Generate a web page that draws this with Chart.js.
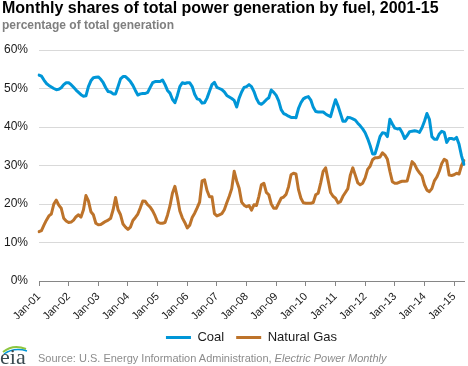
<!DOCTYPE html>
<html>
<head>
<meta charset="utf-8">
<script src="https://cdn.jsdelivr.net/npm/chart.js@4.4.1/dist/chart.umd.min.js"></script>
<style>
html,body{margin:0;padding:0;background:#fff;}
#wrap{position:relative;width:468px;height:366px;overflow:hidden;font-family:"Liberation Sans",Arial,sans-serif;}
#c{position:absolute;left:0;top:0;width:468px;height:366px;}
.title{position:absolute;left:2px;top:0px;font-size:16px;font-weight:bold;line-height:16px;color:#000;white-space:nowrap;}
.sub{position:absolute;left:2px;top:19px;font-size:12px;font-weight:bold;line-height:12px;color:#7f7f7f;white-space:nowrap;}
.src{position:absolute;left:38px;top:353px;font-size:11px;line-height:11px;color:#8c8c8c;white-space:nowrap;}
.logo{position:absolute;left:0px;top:344px;width:30px;height:22px;}
.logo span{position:absolute;left:0px;top:2px;font-family:"Liberation Serif",serif;font-size:22px;line-height:22px;color:#3a4a50;}
.logo svg{position:absolute;left:0;top:0;}
</style>
</head>
<body>
<div id="wrap">
<canvas id="c" width="468" height="366"></canvas>
<div class="title">Monthly shares of total power generation by fuel, 2001-15</div>
<div class="sub">percentage of total generation</div>
<div class="logo">
<svg width="30" height="12" viewBox="0 0 30 12"><path d="M3 8 Q13 0 26 5" stroke="#8dc63f" stroke-width="2" fill="none"/><path d="M4 10 Q14 3 27 7" stroke="#0096d7" stroke-width="1.5" fill="none"/></svg>
<span>eia</span>
</div>
<div class="src">Source: U.S. Energy Information Administration, <i>Electric Power Monthly</i></div>
</div>
<script>
const years = ['01','02','03','04','05','06','07','08','09','10','11','12','13','14','15'];
const months = ['Jan','Feb','Mar','Apr','May','Jun','Jul','Aug','Sep','Oct','Nov','Dec'];

const coal = [
  53.5,53.2,52.2,51.3,50.8,50.4,50.0,49.7,49.8,50.2,51.0,51.5,
  51.5,51.0,50.3,49.6,49.0,48.4,48.0,48.1,50.5,52.0,52.8,52.9,
  53.0,52.4,51.5,50.2,49.2,49.1,48.6,48.6,50.5,52.5,53.1,53.1,
  52.5,51.8,50.8,49.5,48.3,48.6,48.7,48.7,49.0,50.3,51.5,51.8,
  51.8,51.8,52.2,51.0,49.5,48.8,47.2,46.3,48.2,50.5,51.5,51.3,
  51.5,51.5,50.5,48.5,47.3,47.1,46.2,46.3,47.5,49.3,51.0,51.6,
  50.3,50.0,49.7,49.1,48.2,47.8,47.4,46.9,45.2,47.5,49.1,50.3,
  50.5,51.0,50.5,49.2,47.4,46.2,45.9,46.4,47.1,47.6,49.6,49.0,
  48.2,46.8,44.5,43.5,43.2,42.8,42.5,42.5,42.4,44.8,46.3,47.3,
  47.7,47.9,47.0,45.1,44.0,43.9,43.9,43.9,43.4,43.0,42.7,45.0,
  47.1,45.5,43.5,41.5,41.5,42.5,42.4,42.1,41.8,41.0,40.3,39.5,
  38.5,37.0,35.2,33.0,33.0,35.2,37.5,38.5,38.4,37.5,42.0,40.8,
  39.7,39.5,39.6,38.5,37.0,37.8,38.8,38.9,39.0,38.9,38.6,39.8,
  41.5,43.5,42.0,37.5,36.8,36.8,38.2,38.9,38.6,36.0,37.0,37.0,
  36.8,37.3,35.5,32.5,30.3
];

const gas = [
  12.8,13.1,14.5,15.8,16.9,17.4,20.0,21.0,19.7,18.9,16.3,15.6,
  15.2,15.3,15.8,16.7,17.2,16.6,18.5,22.2,20.8,18.0,17.2,15.0,
  14.6,14.7,15.1,15.5,15.8,16.3,18.5,21.7,18.5,17.2,14.8,14.0,
  13.4,14.0,15.7,16.5,17.4,19.0,20.8,20.7,19.8,19.2,18.2,16.9,
  15.3,15.0,15.0,15.2,17.1,19.5,22.8,24.6,21.7,18.2,16.4,15.2,
  13.8,14.5,16.5,17.6,19.0,20.5,26.0,26.3,23.5,21.9,21.9,17.5,
  16.9,17.2,17.5,18.5,20.3,22.0,24.0,28.5,26.0,24.1,20.5,19.7,
  19.3,19.6,18.4,19.8,19.6,22.0,25.0,25.4,23.0,22.4,20.0,18.9,
  18.9,20.2,21.5,21.8,22.5,24.5,27.6,28.0,27.8,23.8,21.5,20.3,
  20.2,20.2,20.2,20.4,22.4,22.8,25.5,28.5,29.4,26.2,23.0,22.0,
  21.5,20.3,20.6,22.0,23.0,24.0,27.5,29.4,27.5,25.5,25.0,25.4,
  26.8,29.0,29.8,31.5,32.0,32.0,32.2,33.3,32.7,31.6,28.5,25.8,
  25.4,25.4,25.7,25.9,25.9,26.0,28.5,31.0,30.3,29.0,28.1,27.3,
  25.0,23.6,23.2,24.0,26.0,27.0,28.5,30.5,31.6,31.2,27.5,27.4,
  27.6,28.0,27.8,30.0,31.3
];

const categories = years.flatMap(y => months.map(m => m + '-' + y)).slice(0, coal.length);
const yTicks = [0, 10, 20, 30, 40, 50, 60];

const textColor = '#1a1a1a';
const axisGray = '#868686';

new Chart(document.getElementById('c'), {
  type: 'line',
  data: {
    labels: categories,
    datasets: [
      {label: 'Coal', data: coal, borderColor: '#0096d7', backgroundColor: '#0096d7', borderWidth: 3, pointRadius: 0, tension: 0, borderJoinStyle: 'round', borderCapStyle: 'round'},
      {label: 'Natural Gas', data: gas, borderColor: '#bd732a', backgroundColor: '#bd732a', borderWidth: 3, pointRadius: 0, tension: 0, borderJoinStyle: 'round', borderCapStyle: 'round'}
    ]
  },
  options: {
    responsive: false,
    animation: false,
    events: [],
    layout: {padding: {top: 50, left: 0, right: 4, bottom: 12}},
    scales: {
      x: {
        type: 'category',
        offset: false,
        afterFit: s => { s.height = 38; },
        grid: {
          drawOnChartArea: false, drawTicks: true, tickLength: 5,
          color: ctx => (ctx.tick && ctx.tick.label) ? axisGray : 'rgba(0,0,0,0)'
        },
        border: {display: true, color: axisGray, width: 1},
        ticks: {
          autoSkip: false, maxRotation: 45, minRotation: 45, padding: 4,
          color: textColor,
          font: {family: '"Liberation Sans", Arial, sans-serif', size: 11},
          callback: function(v, i) { const l = categories[i]; return l.startsWith('Jan') ? l : null; }
        }
      },
      y: {
        min: 0, max: 60,
        afterFit: s => { s.width = 39; },
        afterBuildTicks: s => { s.ticks = yTicks.map(v => ({value: v})); },
        grid: {color: '#d9d9d9', lineWidth: 1, drawTicks: false},
        border: {display: false},
        ticks: {
          padding: 11, color: textColor,
          font: {family: '"Liberation Sans", Arial, sans-serif', size: 12},
          callback: v => v + '%'
        }
      }
    },
    plugins: {
      tooltip: {enabled: false},
      title: {display: false},
      legend: {
        position: 'bottom', fullSize: false,
        labels: {
          usePointStyle: true, pointStyle: 'line', pointStyleWidth: 25, boxHeight: 13,
          padding: 12, color: textColor,
          font: {family: '"Liberation Sans", Arial, sans-serif', size: 13}
        }
      }
    }
  }
});
</script>
</body>
</html>
